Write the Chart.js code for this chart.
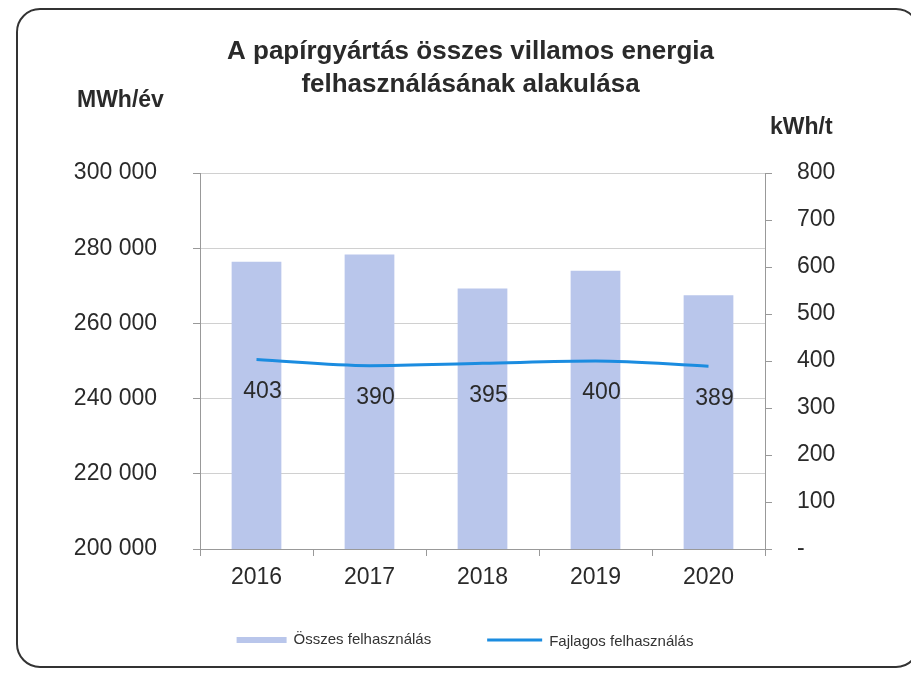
<!DOCTYPE html>
<html>
<head>
<meta charset="utf-8">
<script src="https://cdn.jsdelivr.net/npm/chart.js@4/dist/chart.umd.min.js"></script>
<style>
  html, body { margin: 0; padding: 0; background: #fff; }
  #wrap { position: relative; width: 911px; height: 676px; }
  #frame { position: absolute; left: 16px; top: 8px; width: 900px; height: 656px;
           border: 2px solid #333; border-radius: 24px; pointer-events: none; }
</style>
</head>
<body>
<div id="wrap">
  <canvas id="chart" width="911" height="676"></canvas>
  <div id="frame"></div>
</div>
<script>
// adatok
var years = ['2016', '2017', '2018', '2019', '2020'];
var osszes = [276400, 278300, 269300, 274000, 267500];   // MWh/év
var fajlagos = [403, 390, 395, 400, 389];                  // kWh/t
var leftTicks = [200000, 220000, 240000, 260000, 280000, 300000];
var rightTicks = [0, 100, 200, 300, 400, 500, 600, 700, 800];

var font = "'Liberation Sans', Arial, sans-serif";
var txt = '#2a2a2a';

function fmt(v) {
  return String(v).replace(/\B(?=(\d{3})+(?!\d))/g, ' ');
}

// egységek, értékcímkék, jelmagyarázat
var extras = {
  id: 'extras',
  afterDraw: function(chart) {
    var c = chart.ctx;
    c.save();
    c.fillStyle = txt;
    c.font = 'bold 23px ' + font;
    c.textBaseline = 'middle';
    c.textAlign = 'left';
    c.fillText('MWh/év', 77, 101);
    c.fillText('kWh/t', 770, 128);

    c.font = '23px ' + font;
    c.textAlign = 'center';
    var meta = chart.getDatasetMeta(1);
    meta.data.forEach(function(pt, i) {
      c.fillText(String(fajlagos[i]), pt.x + 6, pt.y + 32);
    });

    // jelmagyarázat
    var ds = chart.data.datasets;
    c.font = '15px ' + font;
    c.textAlign = 'left';
    var w1 = c.measureText(ds[0].label).width;
    var w2 = c.measureText(ds[1].label).width;
    var total = 50 + 7 + w1 + 56 + 55 + 7 + w2;
    var x = 465 - total / 2, y = 640;
    c.fillStyle = ds[0].backgroundColor;
    c.fillRect(x, y - 3, 50, 6);
    c.fillStyle = '#333';
    c.fillText(ds[0].label, x + 57, y);
    x += 57 + w1 + 56;
    c.strokeStyle = ds[1].borderColor;
    c.lineWidth = 3;
    c.beginPath();
    c.moveTo(x, y);
    c.lineTo(x + 55, y);
    c.stroke();
    c.fillText(ds[1].label, x + 62, y + 2);
    c.restore();
  }
};

var ctx = new Chart(document.getElementById('chart'), {
  type: 'bar',
  data: {
    labels: years,
    datasets: [{
      label: 'Összes felhasználás',
      data: osszes,
      backgroundColor: '#b9c6eb',
      barPercentage: 0.44,
      categoryPercentage: 1,
      yAxisID: 'y',
      order: 2
    }, {
      type: 'line',
      label: 'Fajlagos felhasználás',
      data: fajlagos,
      borderColor: '#1b8ce0',
      backgroundColor: '#1b8ce0',
      borderWidth: 3,
      pointRadius: 0,
      cubicInterpolationMode: 'monotone',
      yAxisID: 'y1',
      order: 1
    }]
  },
  options: {
    responsive: false,
    animation: false,
    layout: { padding: { left: 30, right: 0, top: 0, bottom: 0 } },
    plugins: {
      title: {
        display: true,
        text: ['A papírgyártás összes villamos energia', 'felhasználásának alakulása'],
        color: txt,
        font: { family: font, size: 26, weight: 'bold', lineHeight: 1.27 },
        padding: { top: 35, bottom: 72 }
      },
      legend: { display: false },
      tooltip: { enabled: false }
    },
    scales: {
      x: {
        afterFit: function(s) { s.height = 127; },
        grid: { offset: true, drawOnChartArea: false, tickLength: 7, color: '#999' },
        border: { color: '#999' },
        ticks: { color: txt, font: { family: font, size: 23 }, padding: 8 }
      },
      y: {
        position: 'left',
        min: 200000,
        max: 300000,
        afterBuildTicks: function(s) { s.ticks = leftTicks.map(function(v) { return { value: v }; }); },
        afterFit: function(s) { s.width = 170; },
        grid: { color: '#d0d0d0', tickLength: 7, tickColor: '#999' },
        border: { color: '#999' },
        ticks: {
          color: txt, font: { family: font, size: 23 }, padding: 36,
          callback: function(v) { return fmt(v); }
        }
      },
      y1: {
        position: 'right',
        min: 0,
        max: 800,
        afterBuildTicks: function(s) { s.ticks = rightTicks.map(function(v) { return { value: v }; }); },
        afterFit: function(s) { s.width = 146; },
        grid: { drawOnChartArea: false, tickLength: 7, color: '#999' },
        border: { color: '#999' },
        ticks: {
          color: txt, font: { family: font, size: 23 }, padding: 25,
          callback: function(v) { return v === 0 ? '-' : String(v); }
        }
      }
    }
  },
  plugins: [extras]
});
</script>
</body>
</html>
